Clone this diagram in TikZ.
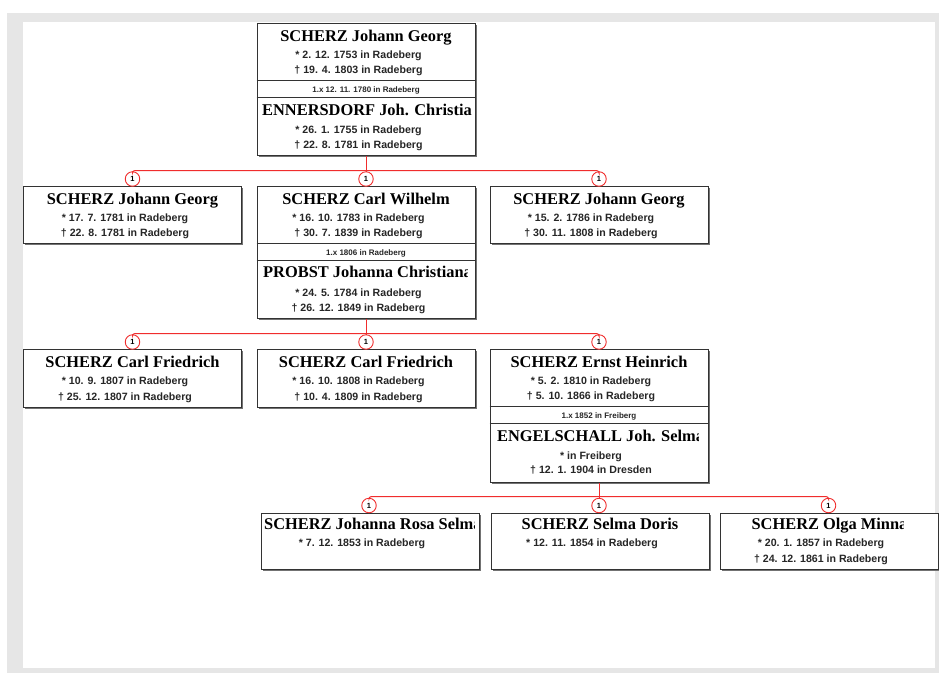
\documentclass[tikz,border=0pt]{standalone}
\usepackage{fontspec}
\setmainfont{Liberation Serif}
\setsansfont{Liberation Sans}
\usetikzlibrary{shadows}
\definecolor{framegray}{HTML}{E6E6E6}
\definecolor{linkred}{RGB}{240,45,45}
\begin{document}
\begin{tikzpicture}[x=1pt,y=-1pt,
  pbox/.style={draw=black!80, fill=white, line width=0.9pt, minimum width=218pt, inner sep=0pt, anchor=north,
    drop shadow={shadow xshift=1.6pt, shadow yshift=-1.6pt, fill=black!55, opacity=1}},
  sepline/.style={draw=black!80, line width=0.8pt},
  nm/.style={font=\fontsize{16.4}{18}\selectfont\bfseries, anchor=base, inner sep=0pt},
  nml/.style={nm, anchor=base west},
  dt/.style={font=\sffamily\bfseries\fontsize{10.6}{13}\selectfont, text=black!85, anchor=base, inner sep=0pt},
  mr/.style={font=\sffamily\bfseries\fontsize{8}{9}\selectfont, text=black!85, anchor=base, inner sep=0pt},
  num/.style={circle, draw=linkred, fill=white, line width=0.9pt, minimum size=14.5pt, inner sep=0pt,
    font=\sffamily\bfseries\fontsize{7.5}{8}\selectfont},
  conn/.style={draw=linkred, line width=1pt, rounded corners=2.5pt}]
% frame
\useasboundingbox (0,0) rectangle (939,673);
\fill[white] (0,0) rectangle (939,673);
\fill[framegray] (7,13) rectangle (939,673);
\fill[white] (23,22) rectangle (935,668);

% ---------- boxes ----------
\node[pbox, minimum height=132pt] (b0) at (366,23) {};
\node[pbox, minimum height=57pt] (b1) at (132.5,186) {};
\node[pbox, minimum height=132pt] (b2) at (366,186) {};
\node[pbox, minimum height=57pt] (b3) at (599,186) {};
\node[pbox, minimum height=58pt] (b4) at (132.5,349) {};
\node[pbox, minimum height=58pt] (b5) at (366,349) {};
\node[pbox, minimum height=133pt] (b6) at (599,349) {};
\node[pbox, minimum height=56pt] (b7) at (370,513) {};
\node[pbox, minimum height=56pt] (b8) at (600,513) {};
\node[pbox, minimum height=56pt] (b9) at (829.5,513) {};

% separators
\draw[sepline] ([yshift=-57pt]b0.north west) -- ([yshift=-57pt]b0.north east);
\draw[sepline] ([yshift=-74.5pt]b0.north west) -- ([yshift=-74.5pt]b0.north east);
\draw[sepline] ([yshift=-57pt]b2.north west) -- ([yshift=-57pt]b2.north east);
\draw[sepline] ([yshift=-74.5pt]b2.north west) -- ([yshift=-74.5pt]b2.north east);
\draw[sepline] ([yshift=-57pt]b6.north west) -- ([yshift=-57pt]b6.north east);
\draw[sepline] ([yshift=-74.5pt]b6.north west) -- ([yshift=-74.5pt]b6.north east);

% ---------- texts ----------
% b0
\node[nm] (t0a) at (366,41) {SCHERZ Johann Georg};
\node[dt] (t0b) at (358.5,58) {* 2. 12. 1753 in Radeberg};
\node[dt] (t0c) at (358.5,73) {† 19. 4. 1803 in Radeberg};
\node[mr] (t0m) at (366,92) {1.x 12. 11. 1780 in Radeberg};
\node[nml] (t0d) at (262,115) {ENNERSDORF Joh. Christia};
\node[dt] (t0e) at (358.5,133) {* 26. 1. 1755 in Radeberg};
\node[dt] (t0f) at (358.5,148.5) {† 22. 8. 1781 in Radeberg};
% b1
\node[nm] (t1a) at (132.5,204) {SCHERZ Johann Georg};
\node[dt] (t1b) at (125,221) {* 17. 7. 1781 in Radeberg};
\node[dt] (t1c) at (125,236.5) {† 22. 8. 1781 in Radeberg};
% b2
\node[nm] (t2a) at (366,204) {SCHERZ Carl Wilhelm};
\node[dt] (t2b) at (358.5,221) {* 16. 10. 1783 in Radeberg};
\node[dt] (t2c) at (358.5,236.5) {† 30. 7. 1839 in Radeberg};
\node[mr] (t2m) at (366,255) {1.x 1806 in Radeberg};
\begin{scope}
\clip (258,260) rectangle (467,285);
\node[nml] (t2d) at (263,277.5) {PROBST Johanna Christiana};
\end{scope}
\node[dt] (t2e) at (358.5,296.5) {* 24. 5. 1784 in Radeberg};
\node[dt] (t2f) at (358.5,311.5) {† 26. 12. 1849 in Radeberg};
% b3
\node[nm] (t3a) at (599,204) {SCHERZ Johann Georg};
\node[dt] (t3b) at (591,221) {* 15. 2. 1786 in Radeberg};
\node[dt] (t3c) at (591,236.5) {† 30. 11. 1808 in Radeberg};
% b4
\node[nm] (t4a) at (132.5,367) {SCHERZ Carl Friedrich};
\node[dt] (t4b) at (125,384) {* 10. 9. 1807 in Radeberg};
\node[dt] (t4c) at (125,400) {† 25. 12. 1807 in Radeberg};
% b5
\node[nm] (t5a) at (366,367) {SCHERZ Carl Friedrich};
\node[dt] (t5b) at (358.5,384) {* 16. 10. 1808 in Radeberg};
\node[dt] (t5c) at (358.5,400) {† 10. 4. 1809 in Radeberg};
% b6
\node[nm] (t6a) at (599,367) {SCHERZ Ernst Heinrich};
\node[dt] (t6b) at (591,384) {* 5. 2. 1810 in Radeberg};
\node[dt] (t6c) at (591,399.5) {† 5. 10. 1866 in Radeberg};
\node[mr] (t6m) at (599,418) {1.x 1852 in Freiberg};
\begin{scope}
\clip (491,424) rectangle (698,448);
\node[nml] (t6d) at (497,441) {ENGELSCHALL Joh. Selma};
\end{scope}
\node[dt] (t6e) at (591,459) {* in Freiberg};
\node[dt] (t6f) at (591,473.5) {† 12. 1. 1904 in Dresden};
% b7
\begin{scope}
\clip (262,514) rectangle (474,535);
\node[nml] (t7a) at (264,529) {SCHERZ Johanna Rosa Selma};
\end{scope}
\node[dt] (t7b) at (362,546) {* 7. 12. 1853 in Radeberg};
% b8
\node[nm] (t8a) at (600,529) {SCHERZ Selma Doris};
\node[dt] (t8b) at (592,546) {* 12. 11. 1854 in Radeberg};
% b9
\begin{scope}
\clip (722,514) rectangle (903,535);
\node[nm] (t9a) at (829.5,529) {SCHERZ Olga Minna};
\end{scope}
\node[dt] (t9b) at (821,546) {* 20. 1. 1857 in Radeberg};
\node[dt] (t9c) at (821,562.5) {† 24. 12. 1861 in Radeberg};

% ---------- connectors ----------
\coordinate (j1) at (366,170.5);
\coordinate (j2) at (366,333.5);
\coordinate (j3) at (599,496.5);
\draw[conn] (b0.south) -- (j1);
\draw[conn] (b2.south) -- (j2);
\draw[conn] (b6.south) -- (j3);
\node[num] (c1a) at (132.5,179) {1};
\node[num] (c1b) at (366,179) {1};
\node[num] (c1c) at (599,179) {1};
\node[num] (c2a) at (132.5,342) {1};
\node[num] (c2b) at (366,342) {1};
\node[num] (c2c) at (599,342) {1};
\node[num] (c3a) at (369,505.5) {1};
\node[num] (c3b) at (599,505.5) {1};
\node[num] (c3c) at (828.5,505.5) {1};

\draw[conn] (c1a.north) |- (j1) -| (c1c.north);
\draw[conn] (j1) -- (c1b.north);
\draw[conn] (c2a.north) |- (j2) -| (c2c.north);
\draw[conn] (j2) -- (c2b.north);
\draw[conn] (c3a.north) |- (j3) -| (c3c.north);
\draw[conn] (j3) -- (c3b.north);
\end{tikzpicture}
\end{document}
